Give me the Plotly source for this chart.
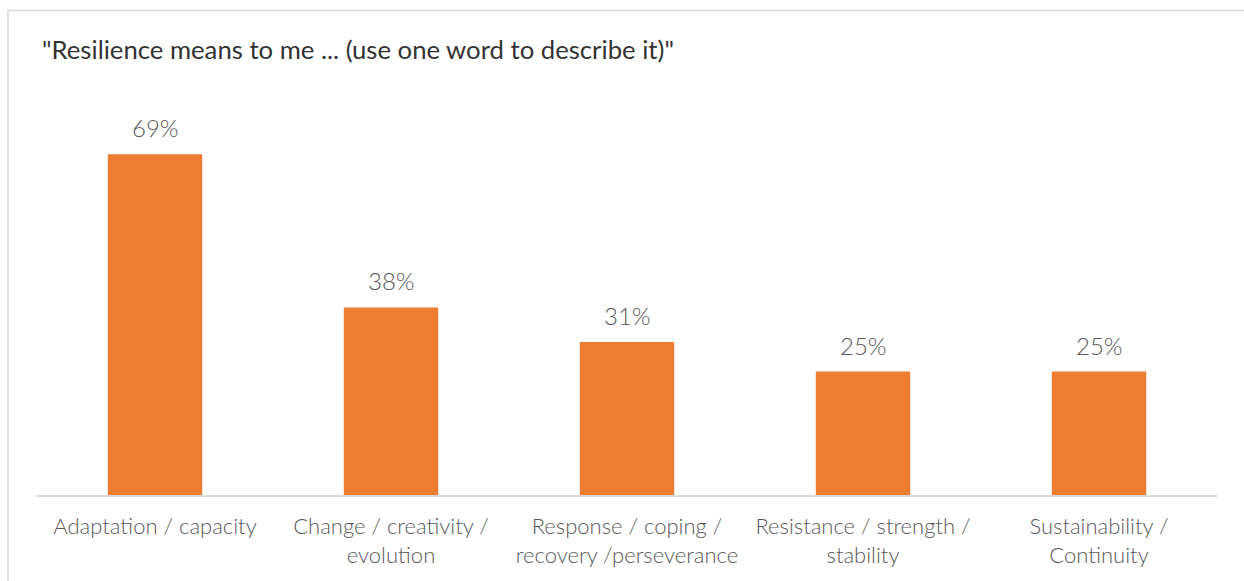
import plotly.graph_objects as go

categories = ["Adaptation / capacity", "Change / creativity /<br>evolution",
              "Response / coping /<br>recovery /perseverance",
              "Resistance / strength /<br>stability", "Sustainability /<br>Continuity"]
values = [69, 38, 31, 25, 25]
labels = [f"{v}%" for v in values]

W, H = 1244, 581
L, R, T, B = 37, 27, 100, 86

fig = go.Figure(go.Bar(
    x=categories, y=values,
    marker=dict(color="#ED7D31", line=dict(width=0)),
    width=0.4,
))

for c, v, t in zip(categories, values, labels):
    fig.add_annotation(x=c, y=v, text=t, showarrow=False, yanchor="bottom",
                       yshift=10, font=dict(family="Lato", size=24, color="#595959", weight=300))

pw, ph = W - L - R, H - T - B
fig.add_shape(type="rect", xref="paper", yref="paper",
              x0=(8 - L) / pw, x1=(1260 - L) / pw,
              y0=(H - B - 600) / ph, y1=(H - B - 10.5) / ph,
              line=dict(color="#D9D9D9", width=1.5), layer="below")

fig.update_layout(
    width=W, height=H,
    margin=dict(l=L, r=R, t=T, b=B),
    paper_bgcolor="white", plot_bgcolor="white",
    showlegend=False,
    title=dict(text='"Resilience means to me ... (use one word to describe it)"',
               x=42 / W, xanchor="left", y=1 - 50 / H, yanchor="middle",
               font=dict(family="Lato", size=25.7, color="#333333")),
    xaxis=dict(showline=True, linecolor="#D9D9D9", linewidth=1.5,
               tickfont=dict(family="Lato", size=22, color="#595959", weight=300),
               ticks="", showgrid=False, ticklabelstandoff=11),
    yaxis=dict(range=[0, 80], visible=False, showgrid=False),
    bargap=0.6,
)

fig.write_html("out.html")
